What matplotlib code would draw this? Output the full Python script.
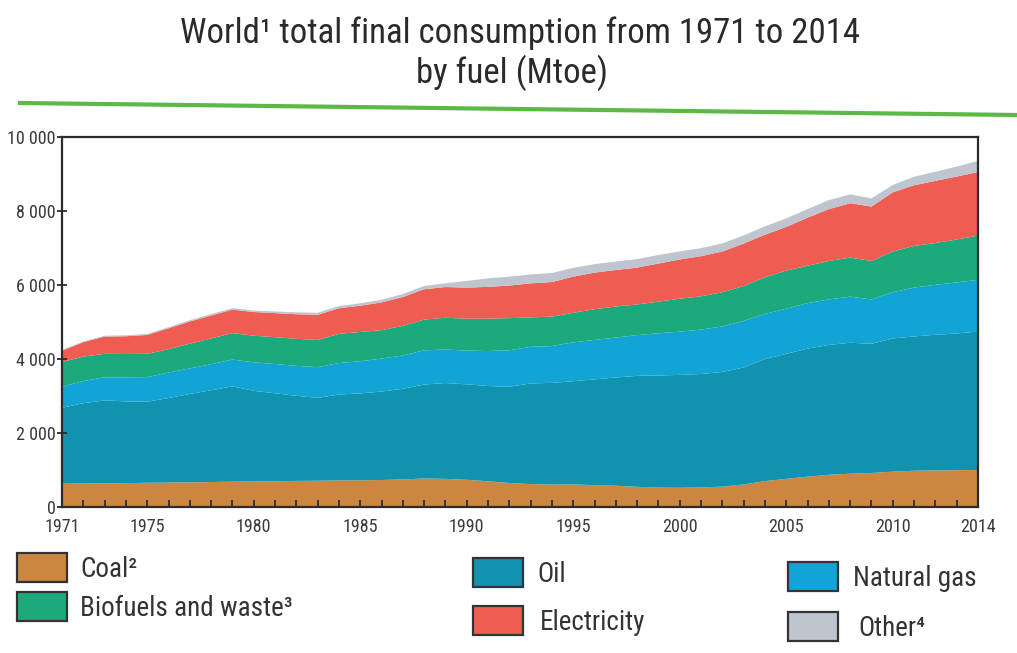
import matplotlib
matplotlib.use("Agg")
import matplotlib.pyplot as plt
from matplotlib.lines import Line2D
from matplotlib.patches import Rectangle
from matplotlib.ticker import FixedLocator, FuncFormatter

plt.rcParams['font.family'] = ['Roboto Condensed', 'DejaVu Sans']

# World total final consumption by fuel, Mtoe
years = list(range(1971, 2015))
coal = [630, 635, 640, 645, 655, 660, 665, 675, 685, 690, 695, 705, 710, 720, 720,
        730, 745, 770, 760, 735, 695, 650, 620, 605, 610, 590, 575, 545, 525, 520,
        530, 550, 610, 700, 760, 820, 870, 900, 920, 955, 980, 990, 995, 1000]
oil = [2050, 2170, 2240, 2210, 2190, 2285, 2390, 2480, 2575, 2450, 2380, 2300, 2240, 2320, 2350,
       2390, 2450, 2540, 2590, 2580, 2575, 2600, 2720, 2750, 2790, 2860, 2925, 3000, 3030, 3050,
       3065, 3100, 3160, 3300, 3380, 3460, 3510, 3540, 3490, 3600, 3630, 3665, 3695, 3740]
natural_gas = [570, 600, 625, 650, 665, 690, 690, 705, 725, 770, 790, 810, 830, 850, 870,
               890, 900, 925, 905, 915, 945, 985, 990, 995, 1050, 1065, 1080, 1100, 1140, 1170,
               1200, 1230, 1260, 1220, 1220, 1230, 1230, 1245, 1200, 1250, 1320, 1350, 1380, 1400]
biofuels = [670, 660, 635, 630, 630, 630, 670, 695, 715, 720, 725, 730, 735, 790, 790,
            770, 800, 830, 860, 860, 875, 870, 795, 795, 800, 830, 840, 830, 855, 890,
            900, 925, 940, 990, 1030, 1010, 1040, 1055, 1040, 1100, 1125, 1130, 1160, 1195]
electricity = [304, 390, 465, 480, 510, 565, 600, 620, 635, 640, 650, 665, 680, 690, 710,
               750, 780, 820, 830, 840, 860, 880, 920, 935, 975, 990, 985, 995, 1030, 1060,
               1085, 1100, 1150, 1150, 1180, 1300, 1400, 1470, 1470, 1600, 1640, 1680, 1700, 1720]
other = [20, 20, 25, 25, 30, 30, 35, 40, 40, 40, 45, 50, 55, 60, 65,
         70, 80, 90, 100, 180, 230, 240, 240, 245, 240, 230, 230, 230, 230, 220,
         215, 220, 220, 225, 230, 230, 245, 240, 220, 200, 230, 245, 270, 300]

series = [coal, oil, natural_gas, biofuels, electricity, other]
colors = ['#CC863F', '#0F93AE', '#13A4D6', '#1CAA7C', '#EE5C52', '#BEC5CE']
legend_labels = ['Coal²', 'Oil', 'Natural gas', 'Biofuels and waste³', 'Electricity', 'Other⁴']

year_labels = [1971, 1975, 1980, 1985, 1990, 1995, 2000, 2005, 2010, 2014]
y_ticks = [0, 2000, 4000, 6000, 8000, 10000]

W, H = 1017, 653
fig = plt.figure(figsize=(W / 100, H / 100), dpi=100)
fig.patch.set_facecolor('white')

ax = fig.add_axes([62 / W, 1 - 507 / H, (978 - 62) / W, (507 - 137) / H])
ax.stackplot(years, *series, colors=colors, linewidth=0)
ax.set_xlim(1971, 2014)
ax.set_ylim(0, 10000)

for s in ax.spines.values():
    s.set_color('#2b2b2b')
    s.set_linewidth(1.6)

ax.yaxis.set_major_locator(FixedLocator(y_ticks))
ax.yaxis.set_major_formatter(FuncFormatter(lambda v, p: f"{int(v):,}".replace(',', ' ')))
ax.tick_params(axis='y', direction='inout', length=7, width=1.3, color='#2b2b2b',
               labelsize=13, labelcolor='#3a3a3a', pad=1)

ax.xaxis.set_major_locator(FixedLocator(year_labels))
ax.xaxis.set_minor_locator(FixedLocator(years))
ax.tick_params(axis='x', which='major', direction='in', length=5, width=1.3, color='#2b2b2b',
               labelsize=13, labelcolor='#3a3a3a', pad=8)
ax.tick_params(axis='x', which='minor', direction='in', length=5, width=1.3, color='#2b2b2b')

# Title
fig.text(0.511, 1 - 33 / H, 'World¹ total final consumption from 1971 to 2014',
         ha='center', va='center', fontsize=25, color='#2a2a2a')
fig.text(0.503, 1 - 73 / H, 'by fuel (Mtoe)', ha='center', va='center', fontsize=25, color='#2a2a2a')

# Green rule under the title
fig.add_artist(Line2D([20 / W, 1.0], [1 - 103 / H, 1 - 115 / H], transform=fig.transFigure,
                      color='#5CB947', linewidth=3))

# Legend: swatch boxes with labels, three columns of two rows
legend_slots = [
    (17, 553, 80, 0), (473, 558, 537, 1), (788, 562, 853, 2),
    (17, 592, 80, 3), (473, 606, 540, 4), (788, 612, 858, 5),
]
sw_w, sw_h = 50, 29
for x0, y0, tx, idx in legend_slots:
    fig.add_artist(Rectangle((x0 / W, 1 - (y0 + sw_h) / H), sw_w / W, sw_h / H,
                             transform=fig.transFigure, facecolor=colors[idx],
                             edgecolor='#333333', linewidth=1.6))
    fig.text(tx / W, 1 - (y0 + sw_h / 2 + 2) / H, legend_labels[idx], ha='left', va='center',
             fontsize=19.5, color='#333333')

fig.savefig('out.png', dpi=100, facecolor='white')
